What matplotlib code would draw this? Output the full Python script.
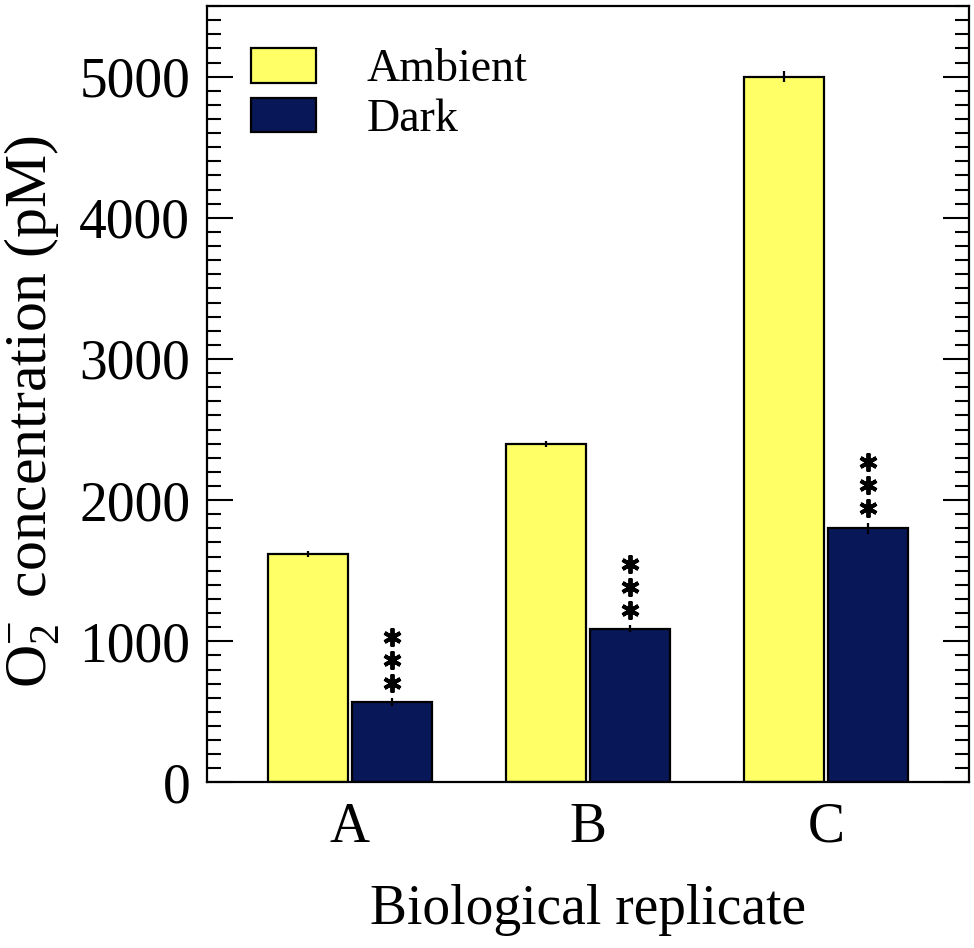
import matplotlib
matplotlib.use("Agg")
import matplotlib.pyplot as plt
from matplotlib.ticker import MultipleLocator
from matplotlib.transforms import offset_copy
import numpy as np

# data
replicates = ["A", "B", "C"]
ambient = [1620, 2400, 5000]
ambient_err = [20, 20, 40]
dark = [570, 1090, 1800]
dark_err = [25, 25, 40]
stars = [3, 3, 3]

plt.rcParams["font.family"] = ["Liberation Serif", "DejaVu Serif"]
plt.rcParams["mathtext.fontset"] = "custom"
plt.rcParams["mathtext.rm"] = "Liberation Serif"
plt.rcParams["mathtext.it"] = "Liberation Serif:italic"

yellow = "#FFFF66"
navy = "#071758"

fig = plt.figure(figsize=(9.74, 9.48), dpi=100)
ax = fig.add_axes([0.2125, 0.1746, 0.7825, 0.819])

x = np.arange(len(replicates))
w = 0.336
gap = 0.008
xa = x - w / 2 - gap
xd = x + w / 2 + gap

ax.bar(xa, ambient, w, color=yellow, edgecolor="black", linewidth=1.6, label="Ambient", zorder=2)
ax.bar(xd, dark, w, color=navy, edgecolor="black", linewidth=1.6, label="Dark", zorder=2)
ax.errorbar(xa, ambient, yerr=ambient_err, fmt="none", ecolor="black", elinewidth=1.6, capsize=0, zorder=3)
ax.errorbar(xd, dark, yerr=dark_err, fmt="none", ecolor="black", elinewidth=1.6, capsize=0, zorder=3)

# significance stars stacked above the dark bars
for xi, v, e, n in zip(xd, dark, dark_err, stars):
    for k in range(n):
        tr = offset_copy(ax.transData, fig=fig, x=0, y=15 + 23 * k, units="dots")
        ax.plot([xi], [v + e], transform=tr, marker=(6, 2, 0), markersize=13,
                markeredgewidth=2.8, color="black", linestyle="none", zorder=4)

ax.set_xlim(-0.6, 2.6)
ax.set_ylim(0, 5500)
ax.set_xticks(x)
ax.set_xticklabels(replicates)
ax.yaxis.set_major_locator(MultipleLocator(1000))
ax.yaxis.set_minor_locator(MultipleLocator(100))
ax.tick_params(axis="y", which="major", direction="in", length=19, width=1.5,
               left=True, right=True, labelsize=40, pad=12)
ax.tick_params(axis="y", which="minor", direction="in", length=10, width=1.5,
               left=True, right=True)
ax.tick_params(axis="x", length=0, labelsize=40, pad=14)

for s in ax.spines.values():
    s.set_linewidth(1.6)

ax.set_ylabel(r"O$_2^{-}\,$ concentration (pM)", fontsize=43)
ax.yaxis.set_label_coords(-0.19, 0.478)
ax.set_xlabel("Biological replicate", fontsize=40, labelpad=22)

ax.legend(loc="upper left", bbox_to_anchor=(0.058, 0.946), frameon=False, fontsize=33,
          handlelength=1.42, handleheight=0.79, handletextpad=1.1, labelspacing=0.14,
          borderpad=0, borderaxespad=0)

fig.savefig("out.png", dpi=100)
